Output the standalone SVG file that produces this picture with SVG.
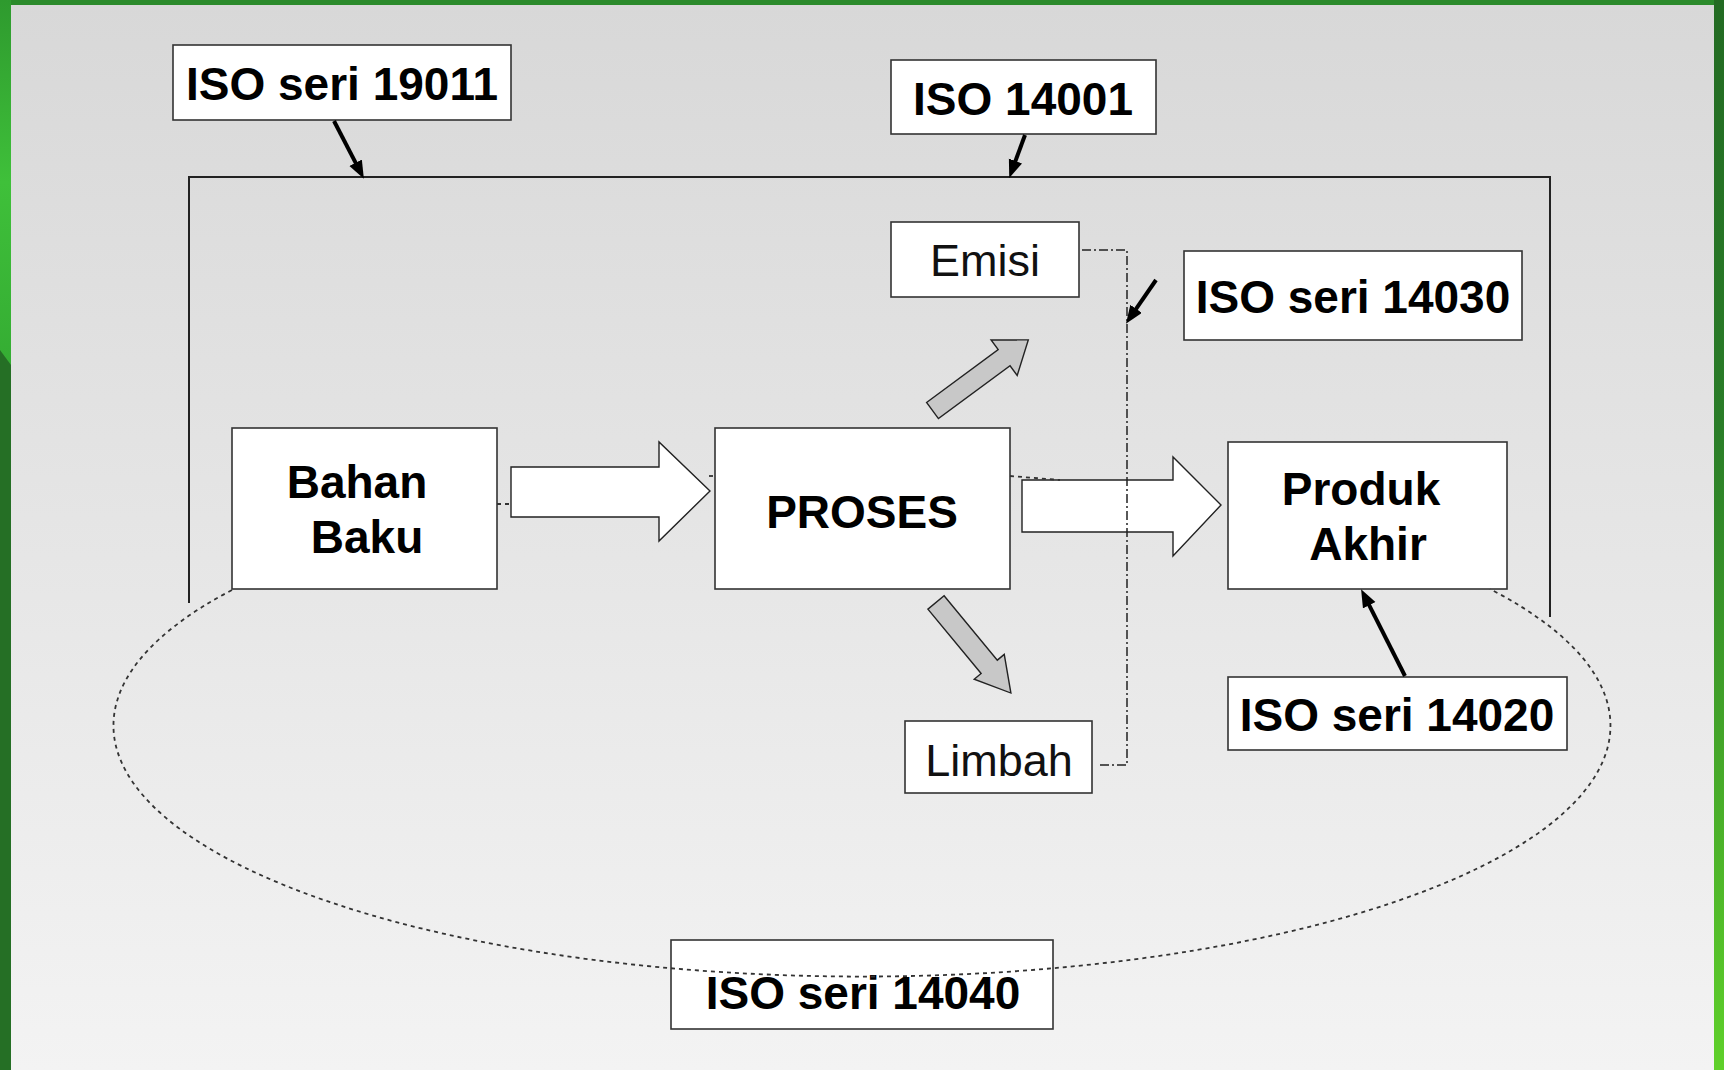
<svg xmlns="http://www.w3.org/2000/svg" width="1724" height="1070" viewBox="0 0 1724 1070">
<defs>
<linearGradient id="bg" x1="0" y1="0" x2="0" y2="1">
<stop offset="0" stop-color="#d8d8d8"/>
<stop offset="1" stop-color="#f3f3f3"/>
</linearGradient>
<linearGradient id="rg" x1="0" y1="0" x2="0" y2="1">
<stop offset="0" stop-color="#236b23"/>
<stop offset="0.4" stop-color="#2a7d28"/>
<stop offset="1" stop-color="#5fd02a"/>
</linearGradient>
<linearGradient id="lg" x1="0" y1="0" x2="0" y2="1">
<stop offset="0" stop-color="#2e9a2e"/>
<stop offset="0.5" stop-color="#3fc03a"/>
<stop offset="1" stop-color="#35ad33"/>
</linearGradient>
<marker id="ah" markerUnits="userSpaceOnUse" markerWidth="20" markerHeight="16" refX="8" refY="7" orient="auto">
<path d="M0,0 L18,7 L0,14 z" fill="#000"/>
</marker>
<style>
.box{fill:#fff;stroke:#333;stroke-width:1.6}
.b{font-family:"Liberation Sans",Arial,sans-serif;font-weight:bold;font-size:46px;fill:#000;text-anchor:middle}
.r{font-family:"Liberation Sans",Arial,sans-serif;font-size:45px;fill:#111;text-anchor:middle}
.ptr{stroke:#000;stroke-width:4;fill:none;marker-end:url(#ah)}
.blk{fill:#fff;stroke:#222;stroke-width:1.4}
.gry{fill:#c8c8c8;stroke:#222;stroke-width:1.4}
.dd{fill:none;stroke:#222;stroke-width:1.5;stroke-dasharray:9 3 2 3}
.dt{fill:none;stroke:#333;stroke-width:1.8;stroke-dasharray:4 4}
</style>
</defs>

<!-- frame / background -->
<rect x="0" y="0" width="1724" height="1070" fill="#256f25"/>
<rect x="0" y="0" width="1724" height="5" fill="#2b8a2b"/>
<polygon points="0,0 11,0 11,365 0,350" fill="url(#lg)"/>
<rect x="1714" y="0" width="10" height="1070" fill="url(#rg)"/>
<rect x="11" y="5" width="1703" height="1065" fill="url(#bg)"/>

<!-- system boundary -->
<path id="boundary" d="M189,603 L189,177 L1550,177 L1550,617" fill="none" stroke="#222" stroke-width="2"/>

<g id="iso19011"><rect class="box" x="173" y="45" width="338" height="75"/><text class="b" x="342" y="100">ISO seri 19011</text></g>
<g id="iso14001"><rect class="box" x="891" y="60" width="265" height="74"/><text class="b" x="1023" y="115">ISO 14001</text></g>
<g id="emisi"><rect class="box" x="891" y="222" width="188" height="75"/><text class="r" x="985" y="276">Emisi</text></g>
<g id="iso14030"><rect class="box" x="1184" y="251" width="338" height="89"/><text class="b" x="1353" y="313">ISO seri 14030</text></g>
<g id="bahan-baku"><rect class="box" x="232" y="428" width="265" height="161"/><text class="b" x="357" y="498">Bahan</text><text class="b" x="367" y="553">Baku</text></g>
<g id="proses"><rect class="box" x="715" y="428" width="295" height="161"/><text class="b" x="862" y="528">PROSES</text></g>
<g id="produk-akhir"><rect class="box" x="1228" y="442" width="279" height="147"/><text class="b" x="1361" y="505">Produk</text><text class="b" x="1368" y="560">Akhir</text></g>
<g id="limbah"><rect class="box" x="905" y="721" width="187" height="72"/><text class="r" x="999" y="776">Limbah</text></g>
<g id="iso14020"><rect class="box" x="1228" y="677" width="339" height="73"/><text class="b" x="1397" y="731">ISO seri 14020</text></g>
<g id="iso14040"><rect class="box" x="671" y="940" width="382" height="89"/><text class="b" x="863" y="1009">ISO seri 14040</text></g>

<g id="connectors">
<!-- flow block arrows -->
<polygon class="blk" points="511,467 659,467 659,442 710,491 659,541 659,517 511,517"/>
<polygon class="blk" points="1022,480 1173,480 1173,457 1221,505 1173,556 1173,532 1022,532"/>
<polygon class="gry" transform="translate(932.5,410.5) rotate(-36.4)" points="0,-10 89,-10 89,-22 119,0 89,22 89,10 0,10"/>
<polygon class="gry" transform="translate(936,602.5) rotate(50.4)" points="0,-10.5 83.5,-10.5 83.5,-19.5 117.5,0 83.5,19.5 83.5,10.5 0,10.5"/>
<!-- small stubs -->
<line class="dt" x1="497" y1="504" x2="511" y2="504"/>
<line class="dt" x1="709" y1="476" x2="715" y2="476"/>
<line class="dt" x1="1010" y1="476" x2="1060" y2="480"/>
<!-- dash-dot boundary for emission/waste -->
<path class="dd" d="M1082,250 L1127,250 L1127,765 L1097,765"/>
<!-- life cycle ellipse -->
<path class="dt" d="M232,590 A748.5 251 0 1 0 1490,589"/>
<!-- pointer arrows -->
<line class="ptr" x1="334" y1="121" x2="359.3" y2="169.9"/>
<line class="ptr" x1="1025" y1="135" x2="1012.7" y2="168.5"/>
<line class="ptr" x1="1156" y1="280" x2="1131.6" y2="315.4"/>
<line class="ptr" x1="1405" y1="676" x2="1365.6" y2="598.1"/>
</g>
</svg>
